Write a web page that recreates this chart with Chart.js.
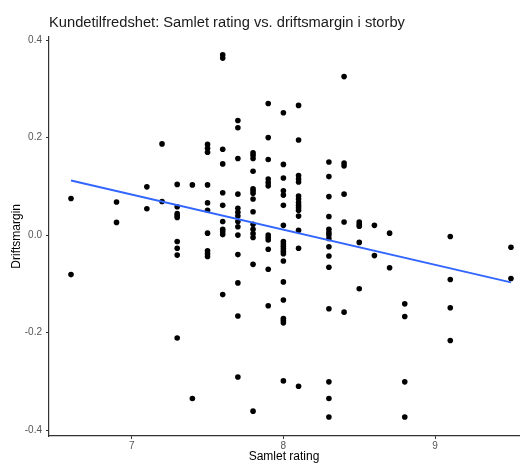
<!DOCTYPE html>
<html>
<head>
<meta charset="utf-8">
<script src="https://cdn.jsdelivr.net/npm/chart.js@4/dist/chart.umd.min.js"></script>
<style>
  html, body { margin: 0; padding: 0; background: #ffffff; }
  #wrap { width: 523px; height: 464px; }
</style>
</head>
<body>
<div id="wrap"><canvas id="chart" width="523" height="464"></canvas></div>
<script>
// Samlet rating (x) - hver verdi har en liste med driftsmarginer
const ratingLevels = [6.6, 6.9, 7.1, 7.2, 7.3, 7.4, 7.5, 7.6, 7.7, 7.8, 7.9, 8.0, 8.1, 8.3, 8.4, 8.5, 8.6, 8.7, 8.8, 9.1, 9.5];
const marginsByRating = [
    [0.075, -0.081],
    [0.068, 0.026],
    [0.099, 0.054],
    [0.187, 0.069],
    [0.104, 0.058, 0.044, 0.040, 0.036, -0.013, -0.027, -0.041, -0.211],
    [0.103, -0.335],
    [0.186, 0.178, 0.170, 0.103, 0.066, 0.051, 0.004, -0.032, -0.038, -0.044],
    [0.370, 0.363, 0.176, 0.146, 0.087, 0.061, 0.028, 0.012, 0.007, 0.001, -0.122],
    [0.235, 0.220, 0.157, 0.084, 0.055, 0.047, 0.039, 0.028, 0.017, 0.000, -0.040, -0.098, -0.166, -0.291],
    [0.169, 0.164, 0.157, 0.131, 0.095, 0.091, 0.086, 0.074, 0.048, 0.022, 0.012, 0.003, -0.005, -0.060, -0.361],
    [0.270, 0.200, 0.155, 0.115, 0.108, 0.101, 0.000, -0.005, -0.010, -0.029, -0.070, -0.145],
    [0.251, 0.145, 0.117, 0.091, 0.082, 0.061, 0.020, -0.013, -0.018, -0.023, -0.028, -0.033, -0.038, -0.053, -0.096, -0.133, -0.171, -0.175, -0.180, -0.299],
    [0.266, 0.195, 0.122, 0.115, 0.109, 0.080, 0.074, 0.067, 0.061, 0.056, 0.051, 0.039, 0.010, -0.027, -0.310],
    [0.150, 0.120, 0.079, 0.038, 0.012, 0.005, 0.000, -0.007, -0.024, -0.043, -0.066, -0.151, -0.301, -0.335, -0.373],
    [0.325, 0.148, 0.142, 0.084, 0.027, -0.158],
    [0.027, 0.022, 0.018, -0.015, -0.110],
    [0.020, -0.042],
    [0.004, -0.067],
    [-0.141, -0.167, -0.301, -0.373],
    [-0.003, -0.091, -0.149, -0.216],
    [-0.025, -0.089]
];

// Regresjonslinje (lest av bildet)
const fitRating = [6.6, 9.5];
const fitMargin = [0.112, -0.097];

// Aksemerker
const xTicks = [7, 8, 9];
const yTicks = [-0.4, -0.2, 0.0, 0.2, 0.4];

const FONT = "'Liberation Sans', Arial, Helvetica, sans-serif";
const AXIS_COLOR = '#333333';
const TICK_TEXT = '#555555';

// Bygger punktene for Chart.js
const points = [];
ratingLevels.forEach((r, i) => {
    marginsByRating[i].forEach(m => points.push({ x: r, y: m }));
});
const fitPoints = fitRating.map((r, i) => ({ x: r, y: fitMargin[i] }));

const ctx = document.getElementById('chart');
new Chart(ctx, {
    type: 'scatter',
    data: {
        datasets: [
            {
                type: 'line',
                label: 'Trend',
                data: fitPoints,
                borderColor: '#3366FF',
                borderWidth: 2,
                pointRadius: 0,
                fill: false,
                order: 0
            },
            {
                label: 'Butikker',
                data: points,
                backgroundColor: '#000000',
                borderWidth: 0,
                pointRadius: 2.8,
                order: 1
            }
        ]
    },
    options: {
        responsive: false,
        animation: false,
        layout: { padding: 0 },
        plugins: {
            legend: { display: false },
            tooltip: { enabled: false },
            title: {
                display: true,
                text: 'Kundetilfredshet: Samlet rating vs. driftsmargin i storby',
                align: 'start',
                fullSize: false,
                color: '#1a1a1a',
                font: { family: FONT, size: 14.7, weight: 'normal' },
                padding: { top: 14, bottom: 5 }
            }
        },
        scales: {
            x: {
                type: 'linear',
                min: 6.455,
                max: 9.553,
                afterBuildTicks: s => { s.ticks = xTicks.map(v => ({ value: v })); },
                afterFit: s => { s.height = 28; },
                grid: {
                    display: true,
                    drawOnChartArea: false,
                    drawTicks: true,
                    tickLength: 3,
                    color: AXIS_COLOR
                },
                border: { display: true, color: AXIS_COLOR, width: 1.2 },
                ticks: {
                    color: TICK_TEXT,
                    padding: 2,
                    font: { family: FONT, size: 10, lineHeight: 1 },
                    callback: v => String(v)
                },
                title: {
                    display: true,
                    text: 'Samlet rating',
                    color: '#000000',
                    font: { family: FONT, size: 12, lineHeight: 1.2 },
                    padding: { top: 0, bottom: 0 }
                }
            },
            y: {
                type: 'linear',
                min: -0.412,
                max: 0.407,
                afterBuildTicks: s => { s.ticks = yTicks.map(v => ({ value: v })); },
                afterFit: s => { s.width = 49; },
                grid: {
                    display: true,
                    drawOnChartArea: false,
                    drawTicks: true,
                    tickLength: 3,
                    color: AXIS_COLOR
                },
                border: { display: true, color: AXIS_COLOR, width: 1.2 },
                ticks: {
                    color: TICK_TEXT,
                    padding: 4,
                    font: { family: FONT, size: 10 },
                    callback: v => Number(v).toFixed(1)
                },
                title: {
                    display: true,
                    text: 'Driftsmargin',
                    color: '#000000',
                    font: { family: FONT, size: 12, lineHeight: 1.2 },
                    padding: { top: 9, bottom: 0 }
                }
            }
        }
    }
});
</script>
</body>
</html>
